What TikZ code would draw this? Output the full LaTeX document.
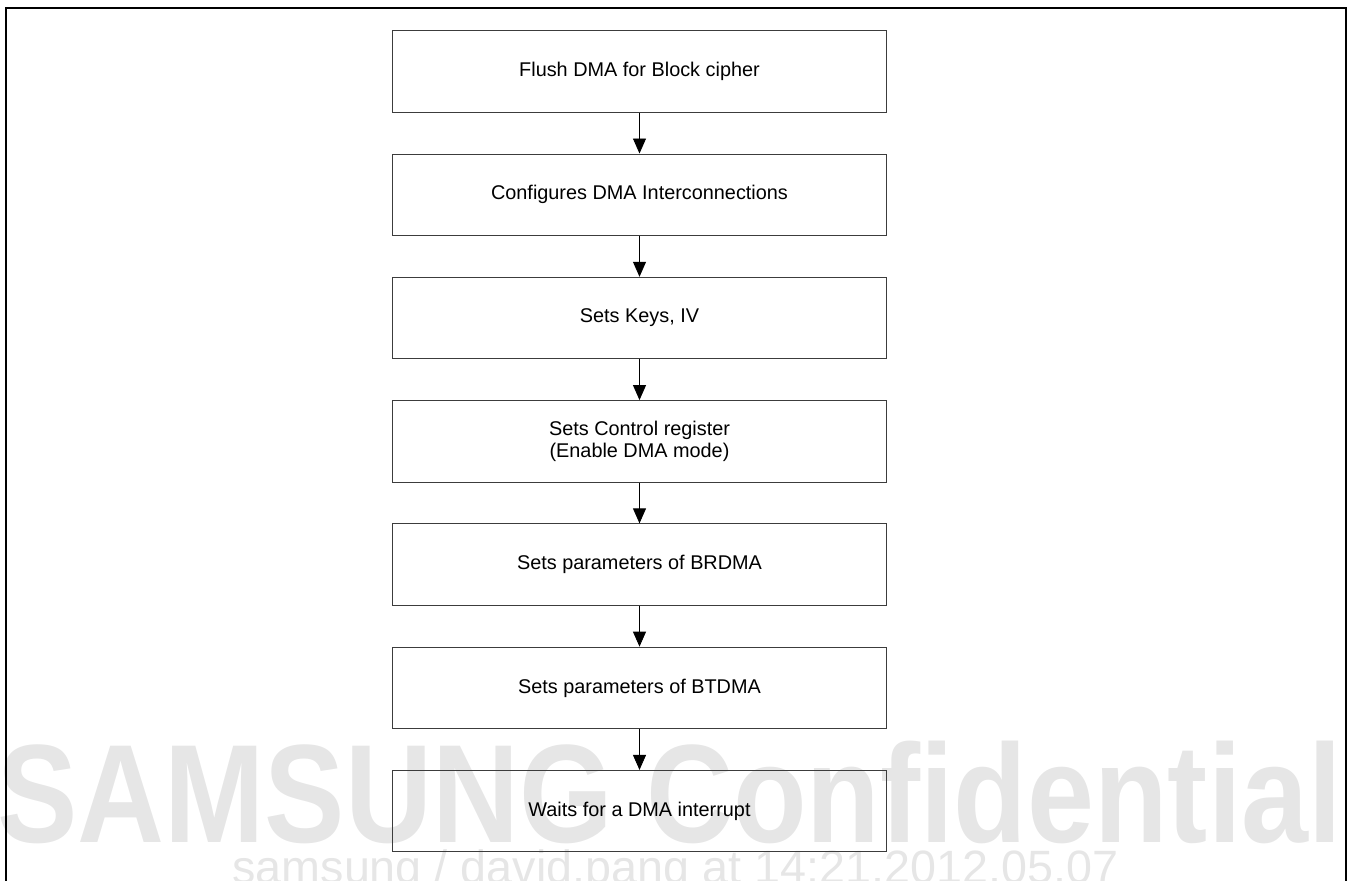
\documentclass[tikz,border=0pt]{standalone}
\usepackage{fontspec}
\setmainfont{Liberation Sans}
\usetikzlibrary{arrows.meta, positioning}
\definecolor{wmgray}{RGB}{230,230,230}
\definecolor{boxline}{RGB}{60,60,60}

\begin{document}
\begin{tikzpicture}[x=0.02cm, y=-0.02cm,
  stepbox/.style={draw=boxline, line width=0.6pt, minimum width=9.9cm, minimum height=1.63cm,
    align=center, inner sep=0pt, font=\fontsize{11.3}{12.5}\selectfont},
  flow/.style={-{Triangle[width=0.26cm, length=0.3cm]}, line width=0.5pt},
  node distance=0.815cm]
  \useasboundingbox (0,0) rectangle (1353,880);
  \clip (0,0) rectangle (1353,880);

  % Watermark
  \node[anchor=base west, text=wmgray, inner sep=0pt, xscale=0.86,
    font=\bfseries\fontsize{79.7}{80}\selectfont] (wmbig) at (-3,842) {SAMSUNG Confidential};
  \node[anchor=base west, text=wmgray, inner sep=0pt,
    font=\fontsize{26.6}{27}\selectfont] (wmsmall) at (232,883) {samsung / david.pang at 14:21.2012.05.07};

  % Outer frame
  \draw[line width=1.3pt] (6,8) rectangle (1346,930);

  % Steps
  \node[stepbox] (flush) at (639.5,71.5) {Flush DMA for Block cipher};
  \node[stepbox, below=of flush] (inter) {Configures DMA Interconnections};
  \node[stepbox, below=of inter] (keys) {Sets Keys, IV};
  \node[stepbox, below=of keys] (ctrl) {Sets Control register\\(Enable DMA mode)};
  \node[stepbox, below=of ctrl] (brdma) {Sets parameters of BRDMA};
  \node[stepbox, below=of brdma] (btdma) {Sets parameters of BTDMA};
  \node[stepbox, below=of btdma] (wait) {Waits for a DMA interrupt};

  % Arrows
  \foreach \a/\b in {flush/inter, inter/keys, keys/ctrl, ctrl/brdma, brdma/btdma, btdma/wait}
    \draw[flow] (\a) -- (\b);
\end{tikzpicture}
\end{document}
